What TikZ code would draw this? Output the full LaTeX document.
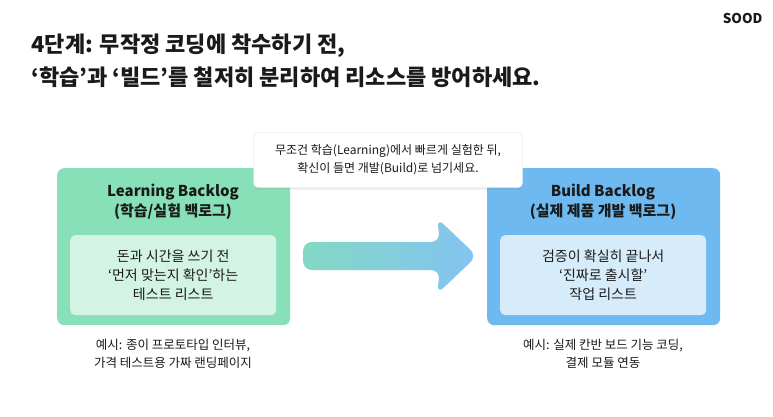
\documentclass[tikz,border=0pt]{standalone}
\usepackage{fontspec}
\setmainfont{Noto Sans CJK KR}
\usetikzlibrary{shadows,calc}
\definecolor{lg}{HTML}{88E0B9}
\definecolor{lgi}{HTML}{D3F3E4}
\definecolor{bb}{HTML}{6DB9F0}
\definecolor{bbi}{HTML}{D7ECFB}
\definecolor{tx}{HTML}{1A1A1A}
\begin{document}
\begin{tikzpicture}[x=1pt,y=-1pt,
  outer/.style={draw=none,rounded corners=7pt,minimum width=233pt,minimum height=157pt,anchor=north west},
  inner/.style={draw=none,rounded corners=5pt,minimum width=206pt,minimum height=80pt,anchor=north west},
  txt/.style={text=tx,align=center,font=\fontsize{14}{19}\selectfont},
  head/.style={text=tx,align=center,font=\bfseries\fontsize{15}{20}\selectfont},
  capt/.style={text=tx,align=center,font=\fontsize{12.5}{18}\selectfont}]
\useasboundingbox (0,0) rectangle (773,417);
\fill[white] (0,0) rectangle (773,417);
\node[anchor=east,text=tx,font=\bfseries\fontsize{13.5}{15}\selectfont] (logo) at (766,18) {SOOD};
\node[anchor=north west,text=tx,align=left,font=\bfseries\fontsize{22}{33}\selectfont] (title) at (28,30) {4단계: 무작정 코딩에 착수하기 전,\\‘학습’과 ‘빌드’를 철저히 분리하여 리소스를 방어하세요.};
% left
\node[outer,fill=lg] (L) at (57,168) {};
\node[head] (Lh) at (173,202) {Learning Backlog\\(학습/실험 백로그)};
\node[inner,fill=lgi] (Li) at (70,235) {};
\node[txt] (Lt) at (Li.center) {돈과 시간을 쓰기 전\\‘먼저 맞는지 확인’하는\\테스트 리스트};
% right
\node[outer,fill=bb] (R) at (487,168) {};
\node[head] (Rh) at (603,202) {Build Backlog\\(실제 제품 개발 백로그)};
\node[inner,fill=bbi] (Ri) at (500,235) {};
\node[txt] (Rt) at (Ri.center) {검증이 확실히 끝나서\\‘진짜로 출시할’\\작업 리스트};
% arrow
\shade[left color=lg!80!bb, right color=bb!85!white, rounded corners=9pt]
  (303,242) -- (440,242) -- (437,218) -- (477,256) -- (437,294) -- (440,270) -- (303,270) -- cycle;
% callout
\node[draw=black!12,fill=white,rounded corners=4pt,minimum width=269pt,minimum height=55pt,drop shadow={opacity=0.15,shadow xshift=0pt,shadow yshift=-2pt},txt,font=\fontsize{12}{18}\selectfont] (C) at (388,160) {무조건 학습(Learning)에서 빠르게 실험한 뒤,\\확신이 들면 개발(Build)로 넘기세요.};
% captions
\node[capt] (Lc) at (173,354) {예시: 종이 프로토타입 인터뷰,\\가격 테스트용 가짜 랜딩페이지};
\node[capt] (Rc) at (603,354) {예시: 실제 칸반 보드 기능 코딩,\\결제 모듈 연동};
\end{tikzpicture}
\end{document}
